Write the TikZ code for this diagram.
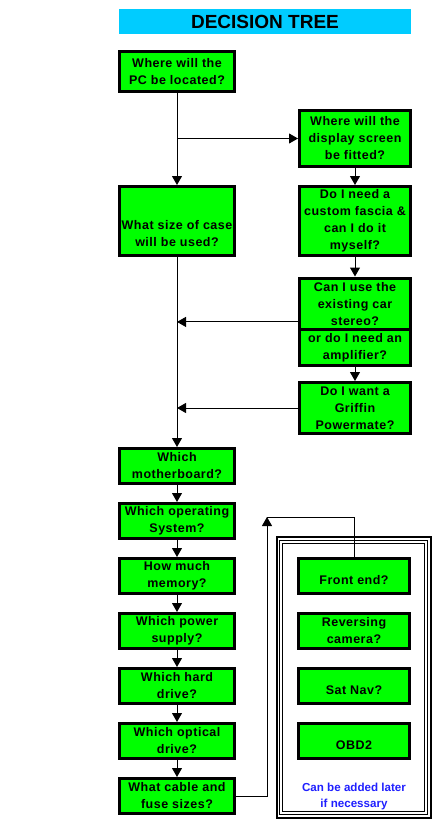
\documentclass[tikz,border=0pt]{standalone}
\usepackage{fontspec}
\usetikzlibrary{arrows.meta,shapes.multipart}
\newfontfamily\boxfont{Liberation Sans}[LetterSpace=4]
\newfontfamily\headfont{Liberation Sans}
\definecolor{boxgreen}{HTML}{00FF00}
\definecolor{titlecyan}{HTML}{00CCFF}
\definecolor{noteblue}{HTML}{1F1FFF}

\begin{document}
\begin{tikzpicture}[x=1pt,y=-1pt,
  q/.style={draw,line width=3pt,fill=boxgreen,inner sep=0pt,align=center,
    font=\boxfont\bfseries\fontsize{12.5}{17}\selectfont},
  ql/.style={q,minimum width=115pt,minimum height=35pt},
  qr/.style={q,minimum width=111pt},
  link/.style={line width=1pt,-{Triangle[width=10pt,length=9pt]}}]
  \useasboundingbox (0,0) rectangle (442,830);
  % heading
  \node[fill=titlecyan,minimum width=292pt,minimum height=25pt,inner sep=0pt,
    font=\headfont\bfseries\fontsize{19}{19}\selectfont] (title) at (265,21.5) {DECISION TREE};
  % main column
  \node[ql,minimum height=40pt] (loc) at (177,71.5) {Where will the\\PC be located?};
  \node[ql,minimum height=69pt] (case) at (177,221) {\mbox{}\\\mbox{}\\What size of case\\will be used?};
  \foreach \n/\y/\t in {mobo/466/{Which\\motherboard?},os/521/{Which operating\\System?},
      mem/576/{How much\\memory?},psu/631/{Which power\\supply?},hdd/686/{Which hard\\drive?},
      odd/741/{Which optical\\drive?},cable/796/{What cable and\\fuse sizes?}}
    \node[ql] (\n) at (177,\y) {\t};
  % display branch
  \node[qr,minimum height=56pt] (screen) at (355,138.5) {Where will the\\display screen\\be fitted?};
  \node[qr,minimum height=69pt] (fascia) at (355,221) {Do I need a\\custom fascia \&\\can I do it\\myself?};
  \node[qr,rectangle split,rectangle split parts=2,inner ysep=2.5pt,anchor=north] (stereo) at (355,276.5)
    {Can I use the\\existing car\\stereo?\nodepart{two}or do I need an\\amplifier?};
  \node[qr,minimum height=51pt] (griffin) at (355,408) {Do I want a\\Griffin\\Powermate?};
  % extras
  \node[qr,minimum height=35pt] (front) at (354,576) {\mbox{}\\Front end?};
  \node[qr,minimum height=35pt] (camera) at (354,631) {Reversing\\camera?};
  \node[qr,minimum height=35pt] (satnav) at (354,686) {\mbox{}\\Sat Nav?};
  \node[qr,minimum height=35pt] (obd) at (354,741) {\mbox{}\\OBD2};
  \node[align=center,text=noteblue,font=\headfont\bfseries\fontsize{11.6}{16}\selectfont] (note) at (354,796)
    {Can be added later\\if necessary};
  \draw[line width=2pt] (277,537) rectangle (430.5,817.5);
  \draw[line width=1pt] (279.7,540) rectangle (427.5,814.5);
  \draw[line width=1pt] (282.4,543) rectangle (424.5,811.5);
  % connectors
  \draw[link] (loc) -- (case);
  \draw[link] (loc.south |- screen.west) -- (screen.west);
  \draw[link] (screen) -- (fascia);
  \draw[link] (fascia.south) -- (stereo.north);
  \draw[link] (stereo.south) -- (griffin.north);
  \draw[link] (stereo.west) -- (case.south |- stereo.west);
  \draw[link] (griffin.west) -- (case.south |- griffin.west);
  \draw[link] (case) -- (mobo);
  \foreach \a/\b in {mobo/os,os/mem,mem/psu,psu/hdd,hdd/odd,odd/cable}
    \draw[link] (\a) -- (\b);
  \coordinate (corner) at (267,517);
  \draw[link] (cable.east) -| (corner);
  \draw[line width=1pt] (corner) -| (front.north);
\end{tikzpicture}
\end{document}
